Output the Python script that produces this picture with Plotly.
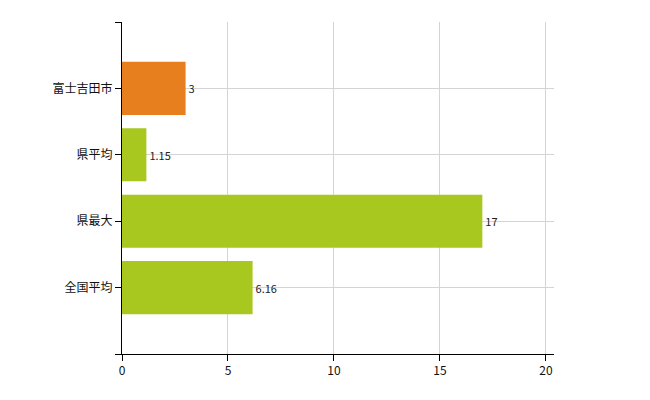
import plotly.graph_objects as go

categories = ["富士吉田市", "県平均", "県最大", "全国平均"]
values = [3, 1.15, 17, 6.16]
labels = ["3", "1.15", "17", "6.16"]
colors = ["#e87f1f", "#a9c81f", "#a9c81f", "#a9c81f"]
positions = [4, 3, 2, 1]

fig = go.Figure()
fig.add_trace(go.Bar(
    x=values, y=positions, orientation="h",
    marker=dict(color=colors, line=dict(width=0)),
    width=0.8,
    text=labels, textposition="outside",
    textfont=dict(size=11, color="#222222", family="Noto Sans CJK JP"),
    cliponaxis=False,
))

fig.update_layout(
    width=650, height=400,
    margin=dict(l=122, r=96, t=22, b=46),
    paper_bgcolor="white", plot_bgcolor="white",
    showlegend=False,
    font=dict(family="Noto Sans CJK JP", size=12, color="#111111"),
    xaxis=dict(
        range=[0, 20.38], tickvals=[0, 5, 10, 15, 20],
        showgrid=True, gridcolor="#d4d4d4", gridwidth=1,
        showline=True, linecolor="black", linewidth=1,
        ticks="outside", ticklen=6, tickcolor="black",
        zeroline=False, tickfont=dict(size=12),
    ),
    yaxis=dict(
        range=[0, 5], tickvals=[0, 1, 2, 3, 4, 5],
        ticktext=["", "全国平均", "県最大", "県平均", "富士吉田市", ""],
        showgrid=True, gridcolor="#d4d4d4", gridwidth=1,
        showline=True, linecolor="black", linewidth=1,
        ticks="outside", ticklen=6, tickcolor="black",
        zeroline=False, tickfont=dict(size=12),
    ),
)

fig.write_html("out.html")
